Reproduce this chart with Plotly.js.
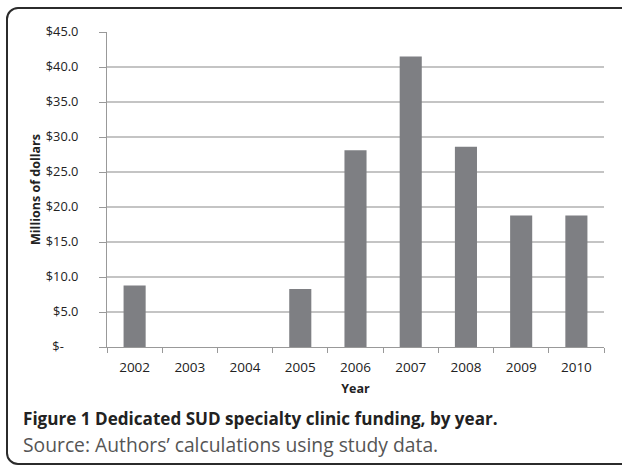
<!DOCTYPE html>
<html>
<head>
<meta charset="utf-8">
<script src="https://cdn.plot.ly/plotly-3.0.1.min.js"></script>
<style>
  html, body { margin: 0; padding: 0; background: #fff; }
  #wrap { position: relative; width: 622px; height: 467px; overflow: hidden; }
  #frame { position: absolute; left: 6px; top: 7px; width: 660px; height: 458px;
           border: 2px solid #2b2b2b; border-radius: 12px; box-sizing: border-box; }
  #chart { position: absolute; left: 0; top: 0; width: 622px; height: 467px; }
</style>
</head>
<body>
<div id="wrap">
  <div id="frame"></div>
  <div id="chart"></div>
</div>
<script>
const years = ['2002', '2003', '2004', '2005', '2006', '2007', '2008', '2009', '2010'];
const funding = [8.8, 0, 0, 8.3, 28.1, 41.5, 28.6, 18.8, 18.8];
const yTickVals = [0, 5, 10, 15, 20, 25, 30, 35, 40, 45];
const yTickText = ['$-\u2007\u2007', '$5.0', '$10.0', '$15.0', '$20.0', '$25.0', '$30.0', '$35.0', '$40.0', '$45.0'];
const captionTitle = 'Figure 1 Dedicated SUD specialty clinic funding, by year.';
const captionSource = 'Source: Authors\u2019 calculations using study data.';

const trace = {
  type: 'bar',
  x: years,
  y: funding,
  marker: { color: '#7e7f83', line: { width: 0 } },
  hoverinfo: 'skip'
};

const layout = {
  width: 622, height: 467,
  margin: { l: 107, r: 18, t: 32, b: 120 },
  paper_bgcolor: 'rgba(0,0,0,0)',
  plot_bgcolor: 'rgba(0,0,0,0)',
  bargap: 0.6,
  showlegend: false,
  font: { family: 'Open Sans, sans-serif', size: 13, color: '#222' },
  xaxis: {
    type: 'category',
    tickson: 'boundaries',
    ticks: 'outside', ticklen: 5, tickcolor: '#999', tickwidth: 1,
    showline: true, linecolor: '#999', linewidth: 1,
    showgrid: false,
    tickfont: { size: 13.5, color: '#222' },
    ticklabelstandoff: 8,
    title: { text: '<b>Year</b>', font: { size: 12.5, color: '#222' }, standoff: 9 },
    fixedrange: true
  },
  yaxis: {
    range: [0, 45],
    tickvals: yTickVals,
    ticktext: yTickText,
    ticks: 'outside', ticklen: 7, tickcolor: '#999', tickwidth: 1,
    showline: true, linecolor: '#999', linewidth: 1,
    showgrid: true, gridcolor: '#c4c4c4', gridwidth: 1.3,
    zeroline: false,
    tickfont: { size: 12.8, color: '#222' },
    ticklabelstandoff: 18,
    title: { text: '<b>Millions of dollars</b>', font: { size: 12.5, color: '#222' }, standoff: 2 },
    fixedrange: true
  },
  annotations: [
    { xref: 'paper', yref: 'paper', x: -0.173, y: -0.228, xanchor: 'left', yanchor: 'middle',
      text: '<b>' + captionTitle + '</b>', showarrow: false,
      font: { size: 17.1, color: '#222', family: 'Open Sans, sans-serif' } },
    { xref: 'paper', yref: 'paper', x: -0.173, y: -0.31, xanchor: 'left', yanchor: 'middle',
      text: captionSource, showarrow: false,
      font: { size: 19.3, color: '#555', family: 'Open Sans, sans-serif' } }
  ]
};

Plotly.newPlot('chart', [trace], layout, { displayModeBar: false, staticPlot: true });
</script>
</body>
</html>
